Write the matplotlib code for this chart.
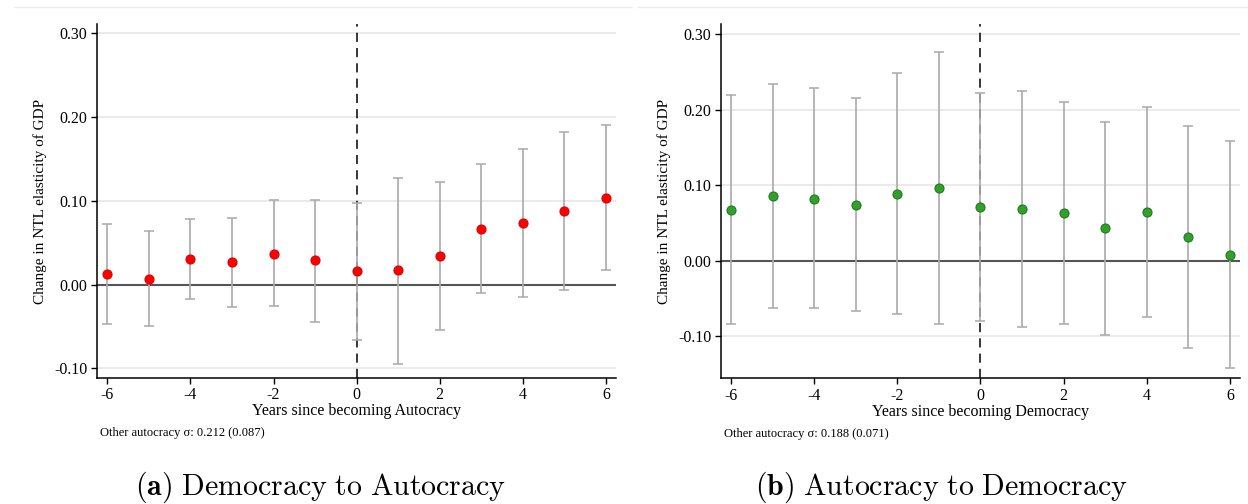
import numpy as np
import matplotlib
matplotlib.use('Agg')
import matplotlib.pyplot as plt
from matplotlib.lines import Line2D

plt.rcParams['font.family'] = ['Liberation Serif', 'DejaVu Serif']
plt.rcParams['mathtext.fontset'] = 'cm'

# event time
years = [-6, -5, -4, -3, -2, -1, 0, 1, 2, 3, 4, 5, 6]

# (a) democracy -> autocracy
coef_a = [0.013, 0.007, 0.031, 0.027, 0.037, 0.029, 0.016, 0.017, 0.034, 0.066, 0.074, 0.088, 0.104]
lo_a = [-0.047, -0.049, -0.017, -0.027, -0.026, -0.044, -0.066, -0.095, -0.054, -0.010, -0.015, -0.006, 0.017]
hi_a = [0.073, 0.064, 0.079, 0.080, 0.101, 0.101, 0.098, 0.127, 0.123, 0.144, 0.162, 0.182, 0.191]

# (b) autocracy -> democracy
coef_b = [0.067, 0.086, 0.082, 0.074, 0.089, 0.096, 0.071, 0.068, 0.063, 0.043, 0.064, 0.032, 0.008]
lo_b = [-0.084, -0.063, -0.063, -0.067, -0.070, -0.083, -0.079, -0.088, -0.084, -0.098, -0.074, -0.115, -0.142]
hi_b = [0.219, 0.234, 0.228, 0.215, 0.249, 0.276, 0.222, 0.225, 0.210, 0.184, 0.203, 0.178, 0.158]

yticks = [-0.10, 0.00, 0.10, 0.20, 0.30]
xticks = [-6, -4, -2, 0, 2, 4, 6]


def draw_panel(ax, coef, lo, hi, color, edge, ylim, xlabel, note):
    coef = np.array(coef)
    yerr = [coef - np.array(lo), np.array(hi) - coef]

    for yv in yticks:
        ax.axhline(yv, color='#e6e6e6', linewidth=1.2, zorder=0)
    ax.axhline(0, color='#555555', linewidth=1.5, zorder=1)
    ax.axvline(0, color='black', linestyle=(0, (6, 4)), linewidth=1.1, zorder=1)

    ax.errorbar(years, coef, yerr=yerr, fmt='none', ecolor='#ababab', elinewidth=1.3,
                capsize=3.5, capthick=1.2, zorder=2, alpha=0.95)
    ax.plot(years, coef, 'o', color=color, markeredgecolor=edge, markeredgewidth=0.8,
            markersize=6.5, zorder=3)

    ax.set_xlim(-6.24, 6.24)
    ax.set_ylim(*ylim)
    ax.set_xticks(xticks)
    ax.set_xticklabels([str(t) for t in xticks])
    ax.set_yticks(yticks)
    ax.set_yticklabels(['%.2f' % t for t in yticks])
    ax.tick_params(labelsize=11.5, length=4, width=1, direction='out', pad=3)

    ax.spines['top'].set_visible(False)
    ax.spines['right'].set_visible(False)
    ax.spines['left'].set_linewidth(1.1)
    ax.spines['bottom'].set_linewidth(1.1)

    ax.set_xlabel(xlabel, fontsize=11.5, labelpad=0)
    ax.set_ylabel('Change in NTL elasticity of GDP', fontsize=11, labelpad=5)
    ax.text(0.005, -0.14, note, transform=ax.transAxes, fontsize=9, va='top', ha='left')


fig = plt.figure(figsize=(12.48, 5.04), dpi=100)
ax1 = fig.add_axes([0.078, 0.2506, 0.4155, 0.7014])
ax2 = fig.add_axes([0.5777, 0.25, 0.4159, 0.702])

draw_panel(ax1, coef_a, lo_a, hi_a, '#ff0000', '#e00000', (-0.111, 0.311),
           'Years since becoming Autocracy', 'Other autocracy \u03c3: 0.212 (0.087)')
draw_panel(ax2, coef_b, lo_b, hi_b, '#33a02c', '#1f7a1f', (-0.155, 0.313),
           'Years since becoming Democracy', 'Other autocracy \u03c3: 0.188 (0.071)')

# faint page rules at the top
fig.add_artist(Line2D([14 / 1248, 632 / 1248], [1 - 7 / 504] * 2, color='#eeeeee', linewidth=1))
fig.add_artist(Line2D([638 / 1248, 1.0], [1 - 7 / 504] * 2, color='#eeeeee', linewidth=1))

# subfigure captions
fig.text(320 / 1248, 1 - 487 / 504, r'$\mathbf{(a)}\ \mathrm{Democracy\ to\ Autocracy}$',
         fontsize=21.5, ha='center', va='center')
fig.text(942 / 1248, 1 - 487 / 504, r'$\mathbf{(b)}\ \mathrm{Autocracy\ to\ Democracy}$',
         fontsize=21.5, ha='center', va='center')

plt.savefig('out.png', dpi=100)
